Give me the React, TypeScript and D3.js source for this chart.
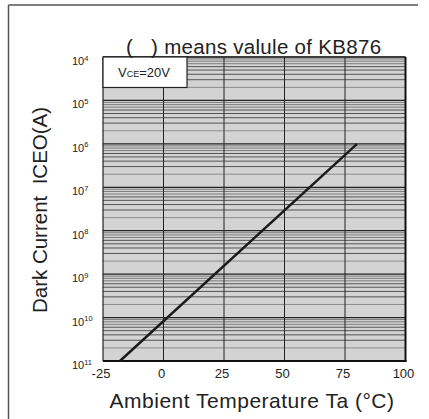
import React from "react";
import * as d3 from "d3";

const xTicks = [-25, 0, 25, 50, 75, 100];
const yDecades = [1e-11, 1e-10, 1e-9, 1e-8, 1e-7, 1e-6, 1e-5, 1e-4];
const yExpLabels = ["11", "10", "9", "8", "7", "6", "5", "4"];
const minorMultipliers = [2, 3, 4, 5, 6, 7, 8, 9];
const seriesT = [-18, 80];
const seriesI = [1e-11, 1e-6];

const W = 429;
const H = 419;
const L = 103, R = 405.5, T = 57, B = 361;

export default function App() {
  const x = d3.scaleLinear().domain([-25, 100]).range([L, R]);
  const y = d3.scaleLog().domain([1e-11, 1e-4]).range([B, T]);
  const pts = seriesT.map((t, i) => [t, seriesI[i]] as [number, number]);
  const line = d3.line<[number, number]>().x((d) => x(d[0])).y((d) => y(d[1]));

  const minors: number[] = [];
  yDecades.slice(0, -1).forEach((d) => minorMultipliers.forEach((m) => minors.push(d * m)));

  const font = "'Liberation Sans', Arial, sans-serif";

  return (
    <svg width={W} height={H} style={{ position: "absolute", left: 0, top: 0, fontFamily: font }}>
      <rect x={0} y={0} width={W} height={H} fill="#fff" />
      {/* outer figure border */}
      <line x1={8.5} y1={5} x2={418} y2={5} stroke="#555" strokeWidth={1.5} />
      <line x1={8.5} y1={5} x2={8.5} y2={H} stroke="#555" strokeWidth={1.5} />

      {/* plot background */}
      <rect x={L} y={T} width={R - L} height={B - T} fill="#d3d3d3" />

      {/* minor horizontal grid */}
      {minors.map((v, i) => {
        const m = Math.round(v / Math.pow(10, Math.floor(Math.log10(v) + 1e-9)));
        const c = m === 2 ? "#7a7a7a" : m >= 7 ? "#666" : "#333";
        return <line key={"m" + i} x1={L} x2={R} y1={y(v)} y2={y(v)} stroke={c} strokeWidth={0.8} />;
      })}
      {/* decade lines */}
      {yDecades.map((v, i) => (
        <line key={"d" + i} x1={L} x2={R} y1={y(v)} y2={y(v)} stroke="#222" strokeWidth={1.3} />
      ))}
      {/* vertical grid */}
      {xTicks.slice(1, -1).map((t) => (
        <line key={"v" + t} x1={x(t)} x2={x(t)} y1={T} y2={B} stroke="#222" strokeWidth={1} />
      ))}

      {/* frame */}
      <line x1={L} x2={L} y1={T} y2={B} stroke="#222" strokeWidth={1.2} />
      <line x1={L} x2={R} y1={T} y2={T} stroke="#222" strokeWidth={1.2} />
      <line x1={R} x2={R} y1={T} y2={B + 1} stroke="#111" strokeWidth={2} />
      <line x1={L} x2={R + 1} y1={B} y2={B} stroke="#111" strokeWidth={2} />

      {/* data line */}
      <path d={line(pts) || ""} fill="none" stroke="#1a1a1a" strokeWidth={2.4} />

      {/* VCE box */}
      <rect x={L} y={T} width={84} height={30.5} fill="#fff" stroke="#222" strokeWidth={1.2} />
      <text x={118} y={77} fontSize={13} fill="#222">
        V<tspan fontSize={9}>CE</tspan>=20V
      </text>

      {/* title */}
      <text x={126} y={53.5} fontSize={20.5} fill="#222" letterSpacing={0.3} style={{ whiteSpace: "pre" }}>
        {"(   ) means valule of KB876"}
      </text>

      {/* y tick labels */}
      {yDecades.map((v, i) => (
        <text key={"yl" + i} x={72} y={y(v) + 8} fontSize={11} fill="#222">
          10<tspan fontSize={7.5} dy={-4.5}>{yExpLabels[i]}</tspan>
        </text>
      ))}

      {/* x tick labels */}
      {xTicks.map((t) => (
        <text key={"xl" + t} x={x(t) - 2} y={378} fontSize={13} textAnchor="middle" fill="#222">
          {t}
        </text>
      ))}

      {/* axis titles */}
      <text x={252} y={408} fontSize={21} letterSpacing={0.5} textAnchor="middle" fill="#222">
        Ambient Temperature Ta (°C)
      </text>
      <text
        transform="translate(47,210) rotate(-90)"
        fontSize={20.5}
        textAnchor="middle"
        fill="#222"
        style={{ whiteSpace: "pre" }}
      >
        {"Dark Current  ICEO(A)"}
      </text>
    </svg>
  );
}
